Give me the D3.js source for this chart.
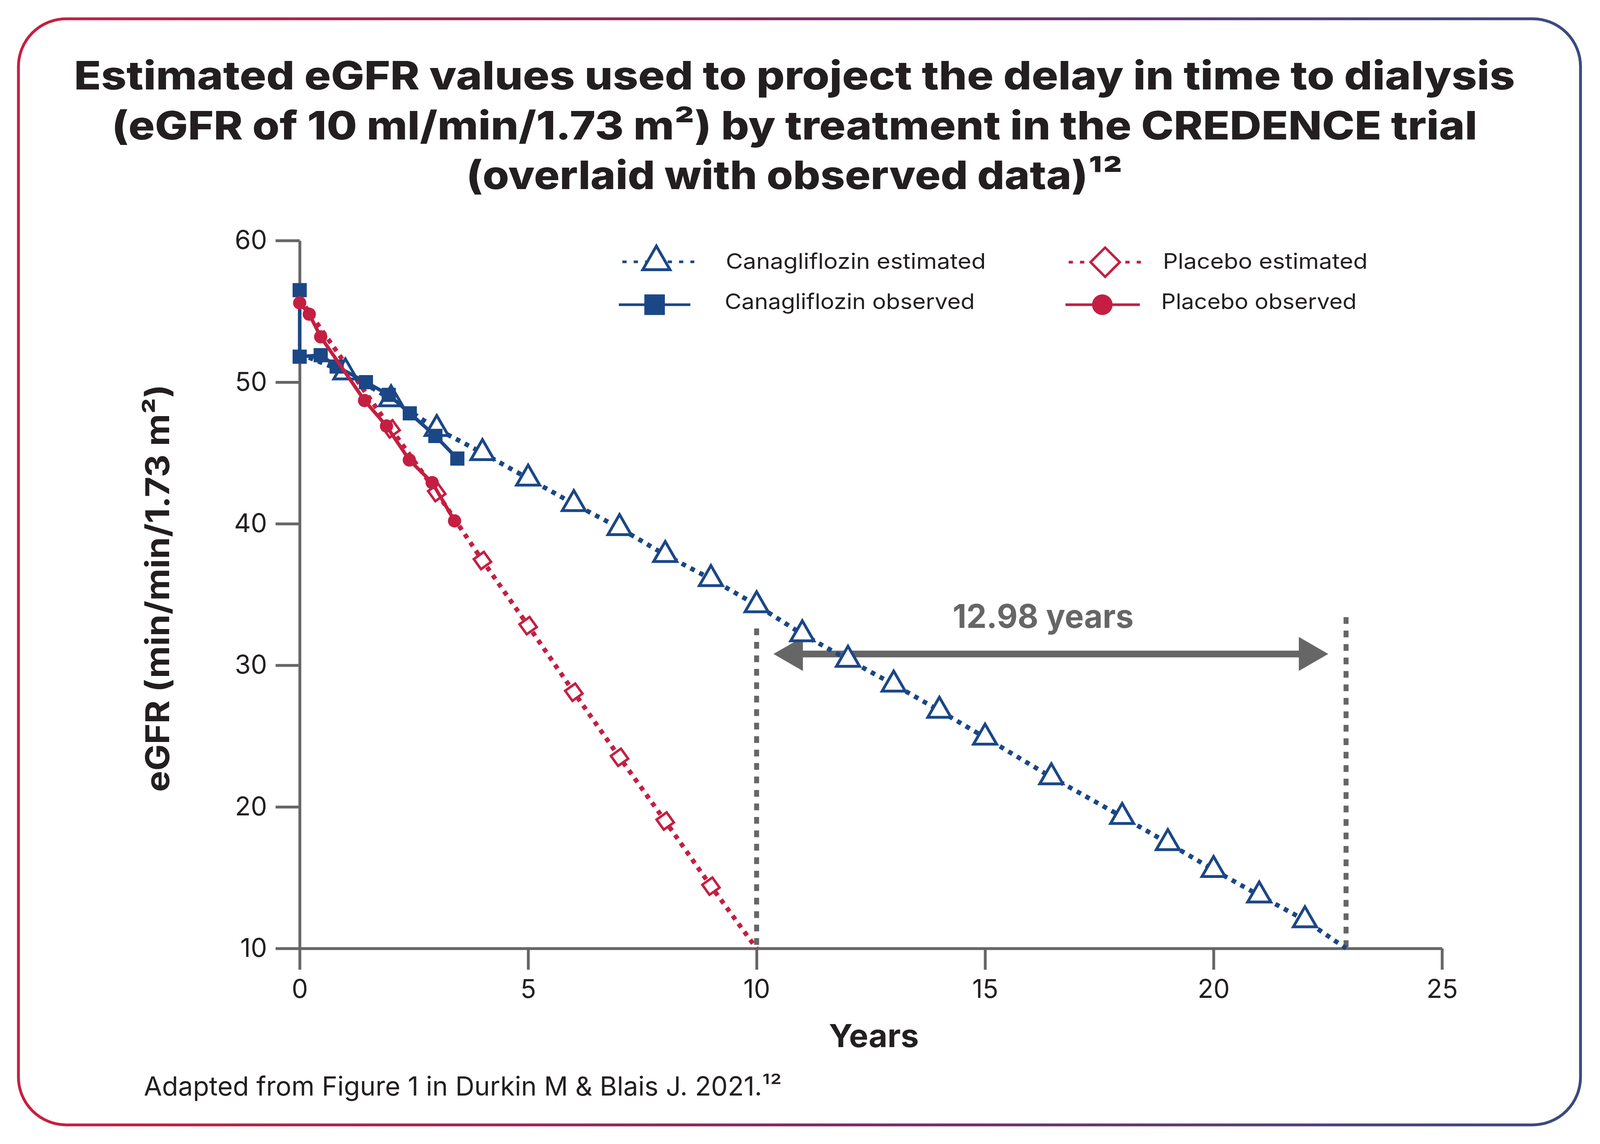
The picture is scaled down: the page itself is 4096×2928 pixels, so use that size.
<!DOCTYPE html>
<html><head><meta charset="utf-8">
<script src="https://cdn.jsdelivr.net/npm/d3@7"></script>
<style>html,body{margin:0;padding:0;background:#fff;} svg{display:block;}</style>
</head><body>
<svg id="chart"></svg>
<script>
// ---------- data ----------
const xTicks = [0, 5, 10, 15, 20, 25];
const yTicks = [10, 20, 30, 40, 50, 60];

const canaEstYears  = [0, 1, 2, 3, 4, 5, 6, 7, 8, 9, 10, 11, 12, 13, 14, 15, 16.45, 18, 19, 20, 21, 22, 22.9];
const canaEstValues = [52.0, 50.7, 48.8, 46.7, 45.0, 43.2, 41.4, 39.7, 37.8, 36.1, 34.25, 32.2, 30.4, 28.65, 26.8, 24.9, 22.1, 19.3, 17.45, 15.55, 13.75, 12.0, 10.0];

const canaObsYears  = [0, 0, 0.46, 0.81, 1.45, 1.95, 2.41, 2.97, 3.45];
const canaObsValues = [56.5, 51.8, 51.9, 51.1, 50.0, 49.1, 47.8, 46.2, 44.6];

const placEstYears  = [0, 2, 3, 4, 5, 6, 7, 8, 9, 10];
const placEstValues = [55.9, 46.7, 42.2, 37.4, 32.8, 28.1, 23.5, 19.0, 14.4, 10.0];

const placObsYears  = [0, 0.21, 0.46, 1.42, 1.90, 2.40, 2.90, 3.39];
const placObsValues = [55.6, 54.8, 53.2, 48.7, 46.9, 44.5, 42.9, 40.2];

const seriesNames = ["Canagliflozin estimated", "Canagliflozin observed", "Placebo estimated", "Placebo observed"];

const dialysisYears = [10, 22.9];        // years at which eGFR reaches 10
const dialysisLineTops = [32.6, 33.4];   // top of dashed guides (eGFR)
const arrowYears = [10.37, 22.51];
const arrowValue = 30.8;
const delayLabel = "12.98 years";
const delayLabelYear = 16.27;

const titleLines = [
  "Estimated eGFR values used to project the delay in time to dialysis",
  "(eGFR of 10 ml/min/1.73 m\u00B2) by treatment in the CREDENCE trial",
  "(overlaid with observed data)\u00B9\u00B2"
];
const yAxisTitle = "eGFR (min/min/1.73 m\u00B2)";
const xAxisTitle = "Years";
const footnote = "Adapted from Figure 1 in Durkin M & Blais J. 2021.\u00B9\u00B2";

// ---------- setup ----------
const W = 4517, H = 3229;
const BLUE = "#1b4787", RED = "#c41f42", GREY = "#666666", INK = "#231f20";
const FONT = "Inter, 'Open Sans', 'Noto Sans', sans-serif";

const svg = d3.select("#chart")
  .attr("width", 4096).attr("height", 2928)
  .attr("viewBox", `0 0 ${W} ${H}`);

const defs = svg.append("defs");
const grad = defs.append("linearGradient").attr("id", "borderGrad")
  .attr("x1", "0%").attr("x2", "100%").attr("y1", "0%").attr("y2", "0%");
grad.append("stop").attr("offset", "0%").attr("stop-color", "#c81f40");
grad.append("stop").attr("offset", "50%").attr("stop-color", "#7e2a62");
grad.append("stop").attr("offset", "100%").attr("stop-color", "#3a4a80");

svg.append("rect").attr("x", 52).attr("y", 53).attr("width", 4410).attr("height", 3122)
  .attr("rx", 135).attr("ry", 135)
  .attr("fill", "#fff").attr("stroke", "url(#borderGrad)").attr("stroke-width", 8);

// title
const titleBase = [253, 394, 534];
const titleLen = [4068, 3855, 1853];
titleLines.forEach((t, i) => {
  svg.append("text").attr("x", 2243).attr("y", titleBase[i])
    .attr("text-anchor", "middle").attr("font-family", FONT)
    .attr("font-weight", 800).attr("font-size", 111).attr("fill", INK)
    .attr("textLength", titleLen[i]).attr("lengthAdjust", "spacingAndGlyphs")
    .text(t);
});

// scales
const x = d3.scaleLinear().domain([0, 25]).range([846, 4071]);
const y = d3.scaleLinear().domain([10, 60]).range([2677, 679]);

// axes
const gx = svg.append("g").attr("transform", `translate(0,${y(10)})`)
  .call(d3.axisBottom(x).tickValues(xTicks).tickSize(60).tickSizeOuter(0).tickPadding(28).tickFormat(d3.format("d")));
gx.attr("font-family", FONT).attr("font-size", 73);
gx.select(".domain").attr("stroke", GREY).attr("stroke-width", 8);
gx.selectAll(".tick line").attr("stroke", GREY).attr("stroke-width", 8);
gx.selectAll(".tick text").attr("fill", INK);

const gy = svg.append("g").attr("transform", `translate(${x(0)},0)`)
  .call(d3.axisLeft(y).tickValues(yTicks).tickSize(68).tickSizeOuter(0).tickPadding(24).tickFormat(d3.format("d")));
gy.attr("font-family", FONT).attr("font-size", 73);
gy.select(".domain").attr("stroke", GREY).attr("stroke-width", 8);
gy.selectAll(".tick line").attr("stroke", GREY).attr("stroke-width", 8);
gy.selectAll(".tick text").attr("fill", INK);

// axis titles
svg.append("text").attr("x", 2467).attr("y", 2955).attr("text-anchor", "middle")
  .attr("font-family", FONT).attr("font-weight", 700).attr("font-size", 90).attr("fill", INK)
  .attr("textLength", 254).attr("lengthAdjust", "spacingAndGlyphs").text(xAxisTitle);
svg.append("text").attr("transform", "translate(478,1660) rotate(-90)").attr("text-anchor", "middle")
  .attr("font-family", FONT).attr("font-weight", 700).attr("font-size", 92).attr("fill", INK)
  .attr("textLength", 1150).attr("lengthAdjust", "spacingAndGlyphs").text(yAxisTitle);

// footnote
svg.append("text").attr("x", 406).attr("y", 3092)
  .attr("font-family", FONT).attr("font-size", 74).attr("fill", INK)
  .attr("textLength", 1801).attr("lengthAdjust", "spacingAndGlyphs").text(footnote);

// annotation: dashed guides + arrow
const ann = svg.append("g");
dialysisYears.forEach((yr, i) => {
  ann.append("line").attr("x1", x(yr)).attr("x2", x(yr))
    .attr("y1", y(dialysisLineTops[i])).attr("y2", y(10))
    .attr("stroke", GREY).attr("stroke-width", 14).attr("stroke-dasharray", "19 19");
});
const ax1 = x(arrowYears[0]), ax2 = x(arrowYears[1]), ay = y(arrowValue);
ann.append("line").attr("x1", ax1 + 70).attr("x2", ax2 - 70).attr("y1", ay).attr("y2", ay)
  .attr("stroke", GREY).attr("stroke-width", 19);
ann.append("path").attr("d", `M${ax1},${ay}L${ax1 + 83},${ay - 48}L${ax1 + 83},${ay + 48}Z`).attr("fill", GREY);
ann.append("path").attr("d", `M${ax2},${ay}L${ax2 - 83},${ay - 48}L${ax2 - 83},${ay + 48}Z`).attr("fill", GREY);
ann.append("text").attr("x", x(delayLabelYear)).attr("y", 1772).attr("text-anchor", "middle")
  .attr("font-family", FONT).attr("font-weight", 700).attr("font-size", 92).attr("fill", GREY)
  .attr("textLength", 511).attr("lengthAdjust", "spacingAndGlyphs").text(delayLabel);

// ---------- series ----------
const zip = (a, b) => a.map((v, i) => [v, b[i]]);
const canaEst = zip(canaEstYears, canaEstValues);
const canaObs = zip(canaObsYears, canaObsValues);
const placEst = zip(placEstYears, placEstValues);
const placObs = zip(placObsYears, placObsValues);
const line = d3.line().x(d => x(d[0])).y(d => y(d[1]));

const DOT = "13 15";
const plot = svg.append("g");

// placebo estimated
plot.append("path").datum(placEst).attr("d", line).attr("fill", "none")
  .attr("stroke", RED).attr("stroke-width", 13).attr("stroke-dasharray", DOT);
// canagliflozin estimated
plot.append("path").datum(canaEst).attr("d", line).attr("fill", "none")
  .attr("stroke", BLUE).attr("stroke-width", 13).attr("stroke-dasharray", DOT);

const angle = Math.atan2(y(placEst[2][1]) - y(placEst[1][1]), x(placEst[2][0]) - x(placEst[1][0])) * 180 / Math.PI;
plot.selectAll(".pe").data(placEst.slice(1, -1)).join("path").attr("class", "pe")
  .attr("transform", d => `translate(${x(d[0])},${y(d[1])}) rotate(${angle})`)
  .attr("d", d3.symbol(d3.symbolSquare, 1225)())
  .attr("fill", "#fff").attr("stroke", RED).attr("stroke-width", 7);

plot.selectAll(".ce").data(canaEst.slice(1, -1)).join("path").attr("class", "ce")
  .attr("transform", d => `translate(${x(d[0])},${y(d[1])})`)
  .attr("d", d3.symbol(d3.symbolTriangle, 1850)())
  .attr("fill", "#fff").attr("stroke", BLUE).attr("stroke-width", 8);

// canagliflozin observed
plot.append("path").datum(canaObs).attr("d", line).attr("fill", "none")
  .attr("stroke", BLUE).attr("stroke-width", 10);
plot.selectAll(".co").data(canaObs).join("path").attr("class", "co")
  .attr("transform", d => `translate(${x(d[0])},${y(d[1])})`)
  .attr("d", d3.symbol(d3.symbolSquare, 1600)()).attr("fill", BLUE);

// placebo observed
plot.append("path").datum(placObs).attr("d", line).attr("fill", "none")
  .attr("stroke", RED).attr("stroke-width", 10);
plot.selectAll(".po").data(placObs).join("path").attr("class", "po")
  .attr("transform", d => `translate(${x(d[0])},${y(d[1])})`)
  .attr("d", d3.symbol(d3.symbolCircle, 1100)()).attr("fill", RED);

// ---------- legend ----------
const legend = [
  { name: seriesNames[0], lx1: 1757, lx2: 1960, ly: 739, mx: 1853, tx: 2049, ty: 759, tl: 734, color: BLUE, dashed: true,
    sym: d3.symbol(d3.symbolTriangle, 2563)(), fill: "#fff", sw: 8, rot: 0 },
  { name: seriesNames[1], lx1: 1747, lx2: 1949, ly: 860, mx: 1848, tx: 2046, ty: 872, tl: 706, color: BLUE, dashed: false,
    sym: d3.symbol(d3.symbolSquare, 3364)(), fill: BLUE, sw: 0, rot: 0 },
  { name: seriesNames[2], lx1: 3017, lx2: 3229, ly: 740, mx: 3120, tx: 3283, ty: 759, tl: 578, color: RED, dashed: true,
    sym: d3.symbol(d3.symbolSquare, 3400)(), fill: "#fff", sw: 7, rot: 45 },
  { name: seriesNames[3], lx1: 3008, lx2: 3218, ly: 860, mx: 3112, tx: 3278, ty: 872, tl: 552, color: RED, dashed: false,
    sym: d3.symbol(d3.symbolCircle, 2642)(), fill: RED, sw: 0, rot: 0 }
];
const lg = svg.append("g");
legend.forEach(L => {
  lg.append("line").attr("x1", L.lx1).attr("x2", L.lx2).attr("y1", L.ly).attr("y2", L.ly)
    .attr("stroke", L.color).attr("stroke-width", 7.5)
    .attr("stroke-dasharray", L.dashed ? "12 20" : null);
  lg.append("path").attr("d", L.sym)
    .attr("transform", `translate(${L.mx},${L.ly}) rotate(${L.rot})`)
    .attr("fill", L.fill).attr("stroke", L.sw ? L.color : "none").attr("stroke-width", L.sw);
  lg.append("text").attr("x", L.tx).attr("y", L.ty)
    .attr("font-family", FONT).attr("font-size", 60).attr("fill", INK)
    .attr("textLength", L.tl).attr("lengthAdjust", "spacingAndGlyphs").text(L.name);
});
</script>
</body></html>
